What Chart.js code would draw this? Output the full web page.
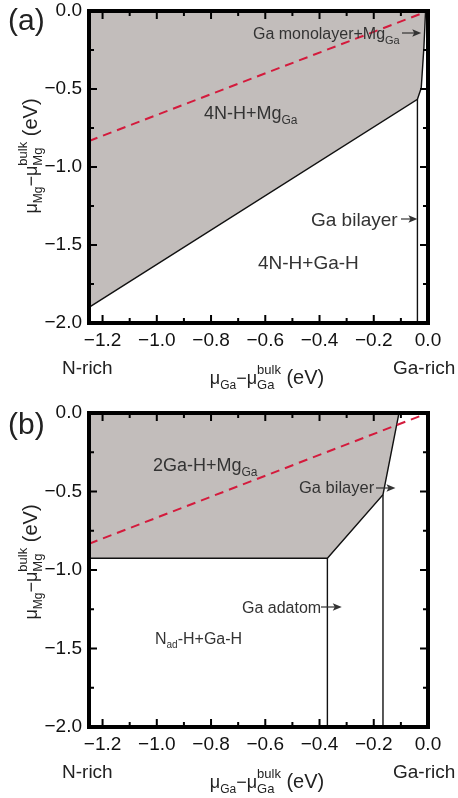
<!DOCTYPE html>
<html><head><meta charset="utf-8">
<script src="https://cdn.jsdelivr.net/npm/chart.js@4"></script>
<style>
html,body{margin:0;padding:0;background:#fff;overflow:hidden}
.wrap{position:absolute;left:0;width:458px}
</style></head><body>
<div class="wrap" style="top:0;height:400px"><canvas id="ca" width="458" height="400"></canvas></div>
<div class="wrap" style="top:400px;height:398px"><canvas id="cb" width="458" height="398"></canvas></div>
<script>
// ---- data ----
const xTickValues = [-1.2, -1.0, -0.8, -0.6, -0.4, -0.2, 0.0];
const xMinorValues = [-1.1, -0.9, -0.7, -0.5, -0.3, -0.1];
const yTickValues = [-2.0, -1.5, -1.0, -0.5, 0.0];
const yMinorValues = [-1.75, -1.25, -0.75, -0.25];
const xRange = [-1.25, 0.0];
const yRange = [-2.0, 0.0];

// red dashed line (both panels)
const redX = [-1.25, 0.0];
const redY = [-0.833, 0.0];

// panel (a)
const aMgBoundX = [-1.25, -0.039, -0.025, -0.015, -0.009];
const aMgBoundY = [-1.90, -0.566, -0.494, -0.23, 0.0];
const aBilayerX = [-0.039, -0.039];
const aBilayerY = [-2.0, -0.566];

// panel (b)
const bMgBoundX = [-1.25, -0.371, -0.166, -0.107];
const bMgBoundY = [-0.925, -0.925, -0.52, 0.0];
const bAdatomX = [-0.371, -0.371];
const bAdatomY = [-2.0, -0.925];
const bBilayerX = [-0.166, -0.166];
const bBilayerY = [-2.0, -0.52];

// ---- helpers ----
const FF = '"Liberation Sans", Arial, Helvetica, sans-serif';
const pts = (xs, ys) => xs.map((x, i) => ({x: x, y: ys[i]}));
const fmt = v => (Math.abs(v) < 1e-9 ? '0.0' : (v < 0 ? '\u2212' : '') + Math.abs(v).toFixed(1));

function drawRich(ctx, parts, x, y, align) {
  let w = 0; const ws = [];
  for (const p of parts) {
    ctx.font = p.s + 'px ' + FF;
    const pw = p.up !== undefined ? Math.max(ctx.measureText(p.up).width, ctx.measureText(p.dn).width) : ctx.measureText(p.t).width;
    ws.push(pw); w += pw;
  }
  let cx = align === 'center' ? x - w / 2 : x;
  ctx.textAlign = 'left'; ctx.textBaseline = 'alphabetic';
  parts.forEach((p, i) => {
    ctx.font = p.s + 'px ' + FF;
    if (p.up !== undefined) { ctx.fillText(p.up, cx, y + p.su); ctx.fillText(p.dn, cx, y + p.sd); }
    else ctx.fillText(p.t, cx, y + (p.dy || 0));
    cx += ws[i];
  });
}
function arrow(ctx, x1, x2, y) {
  ctx.save();
  ctx.strokeStyle = '#333'; ctx.fillStyle = '#333'; ctx.lineWidth = 1.2;
  ctx.beginPath(); ctx.moveTo(x1, y); ctx.lineTo(x2 - 6, y); ctx.stroke();
  ctx.beginPath(); ctx.moveTo(x2, y); ctx.lineTo(x2 - 9, y - 3.8); ctx.lineTo(x2 - 7, y); ctx.lineTo(x2 - 9, y + 3.8); ctx.closePath(); ctx.fill();
  ctx.restore();
}

const xTitle = [{t: '\u03bc', s: 18}, {t: 'Ga', s: 12, dy: 5}, {t: '\u2212\u03bc', s: 18}, {up: 'bulk', dn: 'Ga', s: 13, su: -10, sd: 5}, {t: ' (eV)', s: 20}];
const yTitle = [{t: '\u03bc', s: 18}, {t: 'Mg', s: 12, dy: 5}, {t: '\u2212\u03bc', s: 18}, {up: 'bulk', dn: 'Mg', s: 13, su: -10, sd: 5}, {t: ' (eV)', s: 20}];

function decorPlugin(cfg) {
  return {
    id: 'decor',
    afterDatasetsDraw(chart) {
      const ctx = chart.ctx, a = chart.chartArea, xs = chart.scales.x, ys = chart.scales.y;
      ctx.save();
      ctx.strokeStyle = '#000';
      ctx.lineWidth = 2;
      ctx.beginPath();
      const tick = (vals, len) => {
        vals.forEach(v => {
          const px = xs.getPixelForValue(v);
          ctx.moveTo(px, a.bottom); ctx.lineTo(px, a.bottom - len);
          ctx.moveTo(px, a.top); ctx.lineTo(px, a.top + len);
        });
      };
      const ytick = (vals, len) => {
        vals.forEach(v => {
          const py = ys.getPixelForValue(v);
          ctx.moveTo(a.left, py); ctx.lineTo(a.left + len, py);
          ctx.moveTo(a.right, py); ctx.lineTo(a.right - len, py);
        });
      };
      tick(xTickValues, 8); tick(xMinorValues, 5);
      ytick(yTickValues, 8); ytick(yMinorValues, 5);
      ctx.stroke();
      ctx.lineWidth = 4;
      ctx.strokeRect(a.left, a.top, a.right - a.left, a.bottom - a.top);
      ctx.restore();
    },
    afterDraw(chart) {
      const ctx = chart.ctx, a = chart.chartArea, xs = chart.scales.x;
      ctx.save();
      ctx.fillStyle = '#222';
      ctx.font = '30px ' + FF; ctx.textAlign = 'left'; ctx.textBaseline = 'alphabetic';
      ctx.fillText(cfg.panel, 8, cfg.panelY);
      drawRich(ctx, xTitle, 267, a.bottom + 61, 'center');
      ctx.save();
      ctx.translate(37, cfg.yTitleY);
      ctx.rotate(-Math.PI / 2);
      drawRich(ctx, yTitle, 0, 0, 'center');
      ctx.restore();
      ctx.font = '19px ' + FF;
      ctx.fillText('N-rich', 62, a.bottom + 51);
      ctx.fillText('Ga-rich', 393, a.bottom + 51);
      ctx.fillStyle = '#333';
      cfg.labels.forEach(l => drawRich(ctx, l.parts, l.x, l.y, 'left'));
      cfg.arrows.forEach(ar => arrow(ctx, ar.x1, xs.getPixelForValue(ar.to), ar.y));
      ctx.restore();
    }
  };
}

function makeChart(id, datasets, padTop, axisH, cfg) {
  return new Chart(document.getElementById(id), {
    type: 'scatter',
    data: {datasets: datasets},
    options: {
      responsive: false, animation: false,
      layout: {padding: {left: 0, right: 30, top: padTop, bottom: 0}},
      plugins: {legend: {display: false}, tooltip: {enabled: false}},
      elements: {point: {radius: 0}, line: {tension: 0}},
      scales: {
        x: {
          type: 'linear', min: xRange[0], max: xRange[1],
          grid: {display: false, drawTicks: false}, border: {display: false},
          ticks: {color: '#111', font: {family: FF, size: 19}, padding: 6, callback: v => fmt(v)},
          afterBuildTicks: s => { s.ticks = xTickValues.map(v => ({value: v})); },
          afterFit: s => { s.height = axisH; s.paddingLeft = 0; s.paddingRight = 0; s.paddingTop = 0; s.paddingBottom = 0; }
        },
        y: {
          type: 'linear', min: yRange[0], max: yRange[1],
          grid: {display: false, drawTicks: false}, border: {display: false},
          ticks: {color: '#111', font: {family: FF, size: 19}, padding: 7, callback: v => fmt(v)},
          afterBuildTicks: s => { s.ticks = yTickValues.map(v => ({value: v})); },
          afterFit: s => { s.width = 89; s.paddingLeft = 0; s.paddingRight = 0; s.paddingTop = 0; s.paddingBottom = 0; }
        }
      }
    },
    plugins: [decorPlugin(cfg)]
  });
}

const redDS = {data: pts(redX, redY), showLine: true, borderColor: '#d41a3c', borderWidth: 2, borderDash: [9, 6], fill: false, pointRadius: 0};
const lineDS = (xs, ys) => ({data: pts(xs, ys), showLine: true, borderColor: '#111', borderWidth: 1.4, fill: false, pointRadius: 0});
const fillDS = (xs, ys) => ({data: pts(xs, ys), showLine: true, borderColor: '#111', borderWidth: 1.4, backgroundColor: '#c2bdbb', fill: 'end', pointRadius: 0});

const chartA = makeChart('ca', [
  Object.assign({}, redDS),
  lineDS(aBilayerX, aBilayerY),
  fillDS(aMgBoundX, aMgBoundY)
], 11, 77, {
  panel: '(a)', panelY: 30, yTitleY: 156,
  labels: [
    {x: 253, y: 39, parts: [{t: 'Ga monolayer+Mg', s: 16}, {t: 'Ga', s: 11, dy: 5}]},
    {x: 204, y: 119, parts: [{t: '4N-H+Mg', s: 18}, {t: 'Ga', s: 12, dy: 5}]},
    {x: 258, y: 269, parts: [{t: '4N-H+Ga-H', s: 19}]},
    {x: 311, y: 226, parts: [{t: 'Ga bilayer', s: 19}]}
  ],
  arrows: [{x1: 402, to: -0.025, y: 33}, {x1: 401, to: -0.039, y: 219}]
});

const chartB = makeChart('cb', [
  Object.assign({}, redDS),
  lineDS(bAdatomX, bAdatomY),
  lineDS(bBilayerX, bBilayerY),
  fillDS(bMgBoundX, bMgBoundY)
], 13, 71, {
  panel: '(b)', panelY: 34, yTitleY: 162,
  labels: [
    {x: 153, y: 71, parts: [{t: '2Ga-H+Mg', s: 18}, {t: 'Ga', s: 12, dy: 5}]},
    {x: 299, y: 93, parts: [{t: 'Ga bilayer', s: 16.5}]},
    {x: 242, y: 213, parts: [{t: 'Ga adatom', s: 16}]},
    {x: 155, y: 244, parts: [{t: 'N', s: 16}, {t: 'ad', s: 10, dy: 4}, {t: '-H+Ga-H', s: 16}]}
  ],
  arrows: [{x1: 376, to: -0.12, y: 88}, {x1: 321, to: -0.318, y: 207}]
});
</script>
</body></html>
